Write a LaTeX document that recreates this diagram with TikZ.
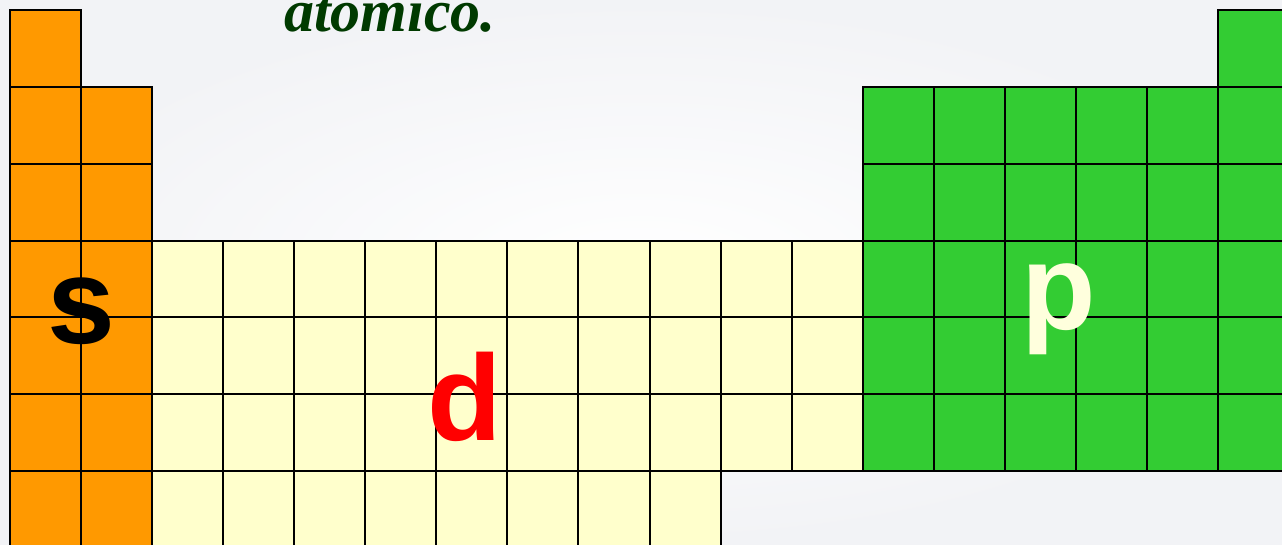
\documentclass[tikz,border=0pt]{standalone}
\usepackage{fontspec}
\setmainfont{Liberation Serif}
\newfontfamily\arialf{Liberation Sans}
\definecolor{sorange}{HTML}{FF9900}
\definecolor{dcream}{HTML}{FFFFCC}
\definecolor{pgreen}{HTML}{33CC33}
\definecolor{ptext}{HTML}{FFFFDD}
\definecolor{titlegreen}{HTML}{003A00}
\definecolor{bgouter}{HTML}{F2F3F6}
\tikzset{
  cellline/.style={draw=black,line width=2pt},
  blocklabel/.style={font=\arialf\bfseries\fontsize{122}{122}\selectfont,anchor=base,inner sep=0pt},
}
\def\W{71.06}
\def\H{76.86}
\newcommand\pcell[3]{\draw[cellline,fill=#3] ({10+#1*\W},{10+#2*\H}) rectangle ++(\W,\H);}
\begin{document}
\begin{tikzpicture}[x=1pt,y=-1pt]
\useasboundingbox (0,0) rectangle (1282,545);
\shade[inner color=white,outer color=bgouter] (0,0) rectangle (1282,545);
% s block
\foreach \r in {0,...,6} {\pcell{0}{\r}{sorange}}
\foreach \r in {1,...,6} {\pcell{1}{\r}{sorange}}
% d block
\foreach \c in {2,...,11} {\foreach \r in {3,4,5} {\pcell{\c}{\r}{dcream}}}
\foreach \c in {2,...,9} {\pcell{\c}{6}{dcream}}
% p block
\foreach \c in {12,...,17} {\foreach \r in {1,...,5} {\pcell{\c}{\r}{pgreen}}}
\pcell{17}{0}{pgreen}
% labels
\node[blocklabel,text=black] (s) at (81,343) {s};
\node[blocklabel,text=red] (d) at (465,440) {d};
\node[blocklabel,text=ptext] (p) at (1059,329) {p};
\node[anchor=base,inner sep=0pt,text=titlegreen,font=\bfseries\itshape\fontsize{60}{60}\selectfont] (title) at (390,32) {atomico.};
\end{tikzpicture}
\end{document}
